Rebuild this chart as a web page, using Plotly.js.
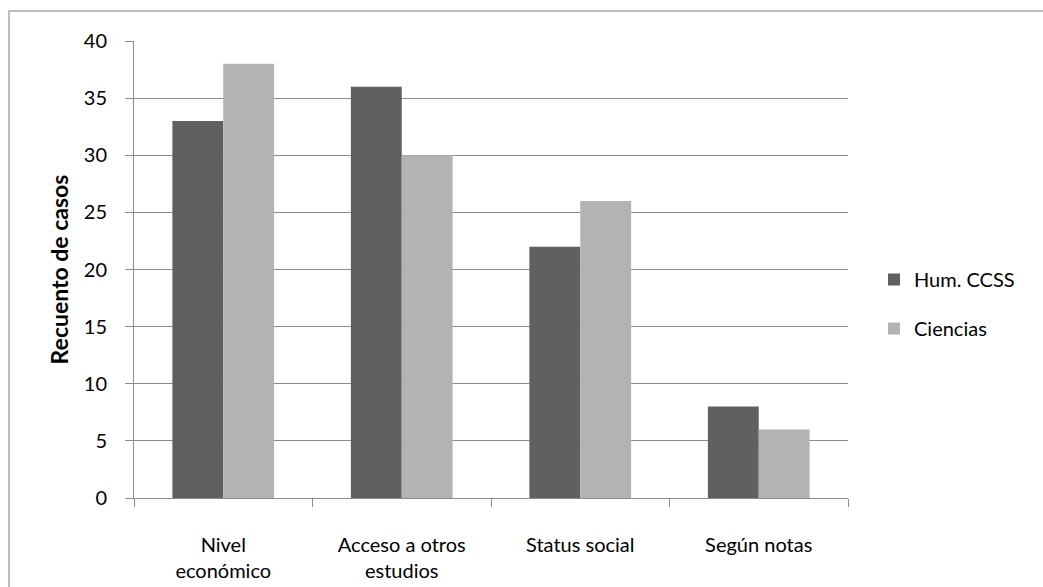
<!DOCTYPE html>
<html>
<head>
<meta charset="utf-8">
<script src="https://cdn.plot.ly/plotly-3.0.1.min.js"></script>
<style>html,body{margin:0;padding:0;background:#fff;}#chart{width:1043px;height:587px;}</style>
</head>
<body>
<div id="chart"></div>
<script>
const categories = ["Nivel<br>económico", "Acceso a otros<br>estudios", "Status social", "Según notas"];
const seriesNames = ["Hum. CCSS", "Ciencias"];
const humValues = [33, 36, 22, 8];
const cienciasValues = [38, 30, 26, 6];
const yTickValues = [0, 5, 10, 15, 20, 25, 30, 35, 40];

const fontFam = "Lato, 'Open Sans', sans-serif";
const gridCol = "#8c8c8c";
const fs = 20;

const traces = [
  {type: "bar", name: seriesNames[0], x: categories, y: humValues, legendgroup: "a",
   marker: {color: "#606060", line: {width: 0}}},
  {type: "bar", name: seriesNames[1], x: categories, y: cienciasValues, legendgroup: "b",
   marker: {color: "#b3b3b3", line: {width: 0}}}
];

const layout = {
  width: 1043, height: 587,
  margin: {l: 134, r: 195, t: 41, b: 89},
  paper_bgcolor: "#fff", plot_bgcolor: "#fff",
  font: {family: fontFam, size: fs, color: "#000"},
  barmode: "group", bargap: 0.43, bargroupgap: 0,
  showlegend: true,
  legend: {x: 1.0364, y: 0.4245, yanchor: "middle", xanchor: "left",
           traceorder: "grouped", tracegroupgap: 20,
           font: {family: fontFam, size: fs, color: "#000"}, itemwidth: 30},
  xaxis: {type: "category", showgrid: false, showline: true, linecolor: gridCol, linewidth: 1,
          ticks: "outside", tickson: "boundaries", ticklen: 8, tickcolor: gridCol,
          ticklabelstandoff: 29, tickfont: {family: fontFam, size: fs, color: "#000"}},
  yaxis: {range: [0, 40], tickvals: yTickValues, showgrid: true, gridcolor: gridCol, gridwidth: 1,
          showline: true, linecolor: gridCol, linewidth: 1, zeroline: false,
          ticks: "outside", ticklen: 8, tickcolor: gridCol, ticklabelstandoff: 14,
          tickfont: {family: fontFam, size: fs, color: "#000"},
          title: {text: "<b>Recuento de casos</b>", font: {family: fontFam, size: 23, color: "#000"}, standoff: 8}},
  shapes: [{type: "rect", xref: "paper", yref: "paper",
            x0: (9 - 134) / 714, x1: (1050 - 134) / 714,
            y0: (498 - 595) / 457, y1: (498 - 11) / 457,
            line: {color: "#a6a6a6", width: 1.5}, fillcolor: "rgba(0,0,0,0)", layer: "below"}]
};

Plotly.newPlot("chart", traces, layout, {displayModeBar: false, staticPlot: true});
</script>
</body>
</html>
